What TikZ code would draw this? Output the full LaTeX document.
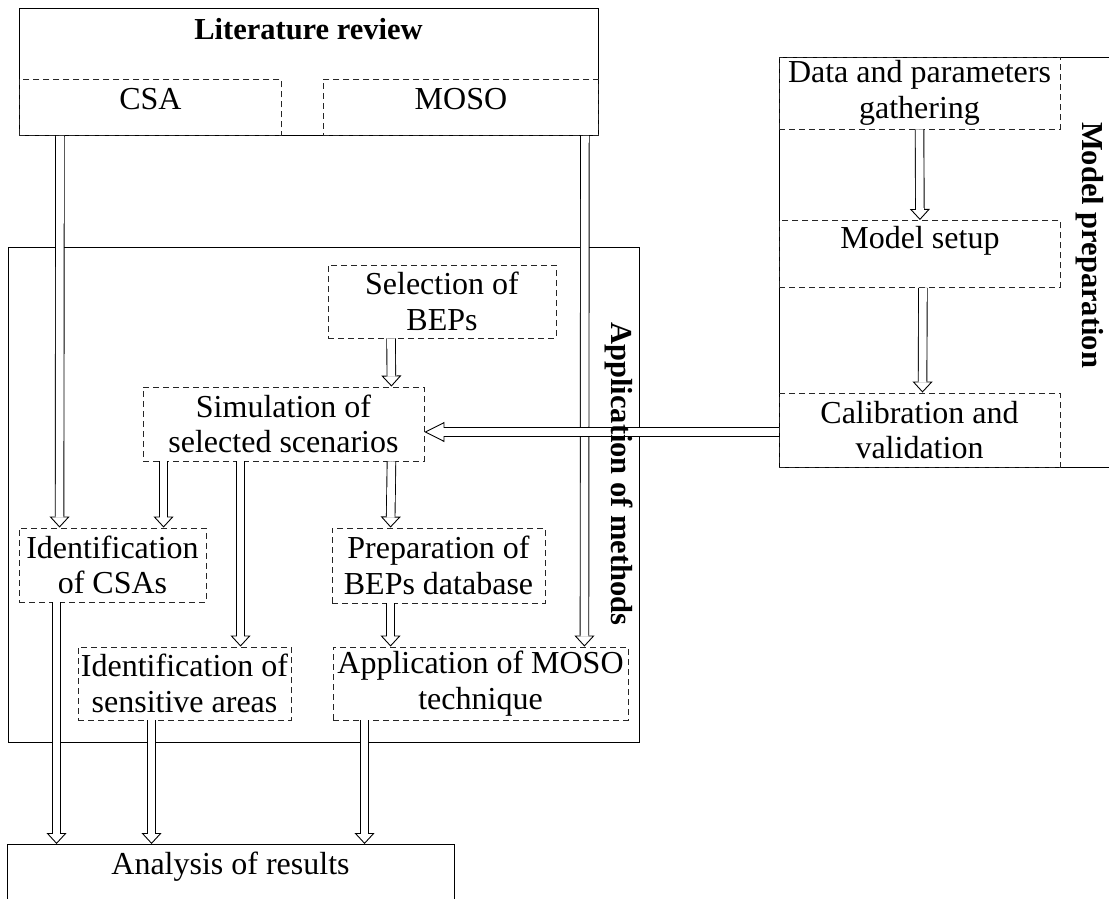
\documentclass[tikz,border=0pt]{standalone}
\usepackage{fontspec}
\setmainfont{Liberation Serif}
\usetikzlibrary{arrows.meta}
\tikzset{grp/.style={draw,line width=0.9pt},sub/.style={draw=black!85,dash pattern=on 6pt off 4pt,line width=0.9pt,align=center,inner sep=0pt},ttl/.style={font=\fontsize{30.5}{35}\selectfont\bfseries},hol/.style={line width=9.5pt,shorten >=#1,postaction={draw,line width=0.9pt,shorten >=0pt,-{Triangle[open,length=#1,width=20pt]}},postaction={draw,white,line width=7.7pt,shorten >=#1-1pt}},hol/.default=11pt}

\begin{document}
\begin{tikzpicture}[x=1pt,y=-1pt,font=\fontsize{32}{35.5}\selectfont]
\useasboundingbox (0,0) rectangle (1109,899);
\clip (0,0) rectangle (1109,899);
% groups
\node[grp,anchor=north west,minimum width=579pt,minimum height=127pt] (lit) at (19,8) {};
\node[ttl] (littl) at (308.5,29) {Literature review};
\node[grp,anchor=north west,minimum width=631pt,minimum height=495pt] (app) at (8,247) {};
\node[grp,anchor=north west,minimum width=340pt,minimum height=410pt] (prepm) at (779,57) {};
\node[grp,anchor=north,minimum width=447pt,inner sep=0pt,text height=30pt,text depth=41pt] (res) at (230.5,844) {Analysis of results};
% steps
\node[sub,anchor=north west,minimum width=262pt,text height=30pt,text depth=26pt] (csa) at (19,79) {CSA};
\node[sub,anchor=north west,minimum width=275pt,text height=30pt,text depth=26pt] (moso) at (323,79) {MOSO};
\node[sub,minimum width=228pt,minimum height=73pt] (sel) at (442,301.5) {Selection of\\BEPs};
\node[sub,minimum width=281pt,minimum height=74pt] (sim) at (283.5,424) {Simulation of\\selected scenarios};
\node[sub,minimum width=187pt,minimum height=74pt] (idcsa) at (112.5,565) {Identification\\of CSAs};
\node[sub,minimum width=213pt,minimum height=75pt] (bepdb) at (438.5,565.5) {Preparation of\\BEPs database};
\node[sub,minimum width=213pt,minimum height=73pt] (sens) at (184.5,683.5) {Identification of\\sensitive areas};
\node[sub,minimum width=295pt,minimum height=73pt] (mosot) at (480.5,683.5) {Application of MOSO\\technique};
\node[sub,minimum width=281pt,minimum height=72pt] (data) at (919.5,93) {Data and parameters\\gathering};
\node[sub,anchor=north west,minimum width=281pt,text height=28pt,text depth=39pt] (setup) at (779,220) {Model setup};
\node[sub,minimum width=281pt,minimum height=74pt] (calib) at (919.5,430) {Calibration and\\validation};
% flows
\draw[hol] ([xshift=41pt]csa.south west) -- ([xshift=41pt]idcsa.north west);
\draw[hol] ([xshift=-14pt]moso.south east) -- ([xshift=-44pt]mosot.north east);
\draw[hol] ([xshift=-51pt]sel.south) -- ([xshift=-33pt]sim.north east);
\draw[hol] ([xshift=21pt]sim.south west) -- ([xshift=145pt]idcsa.north west);
\draw[hol] ([xshift=98pt]sim.south west) -- ([xshift=163pt]sens.north west);
\draw[hol] ([xshift=-33pt]sim.south east) -- ([xshift=59pt]bepdb.north west);
\draw[hol] ([xshift=59pt]bepdb.south west) -- ([xshift=58pt]mosot.north west);
\draw[hol] ([xshift=38pt]idcsa.south west) -- ([xshift=50pt]res.north west);
\draw[hol] ([xshift=74pt]sens.south west) -- ([xshift=145pt]res.north west);
\draw[hol] ([xshift=32pt]mosot.south west) -- ([xshift=358pt]res.north west);
\draw[hol] (data.south) -- (setup.north);
\draw[hol] ([xshift=3pt]setup.south) -- ([xshift=3pt]calib.north);
\draw[hol=20pt] ([yshift=-2pt]calib.west) -- ([yshift=-8pt]sim.east);
% side titles
\node[ttl,rotate=-90] (apptl) at (619,474) {Application of methods};
\node[ttl,rotate=-90] (prepmtl) at (1090,245) {Model preparation};
\end{tikzpicture}
\end{document}
